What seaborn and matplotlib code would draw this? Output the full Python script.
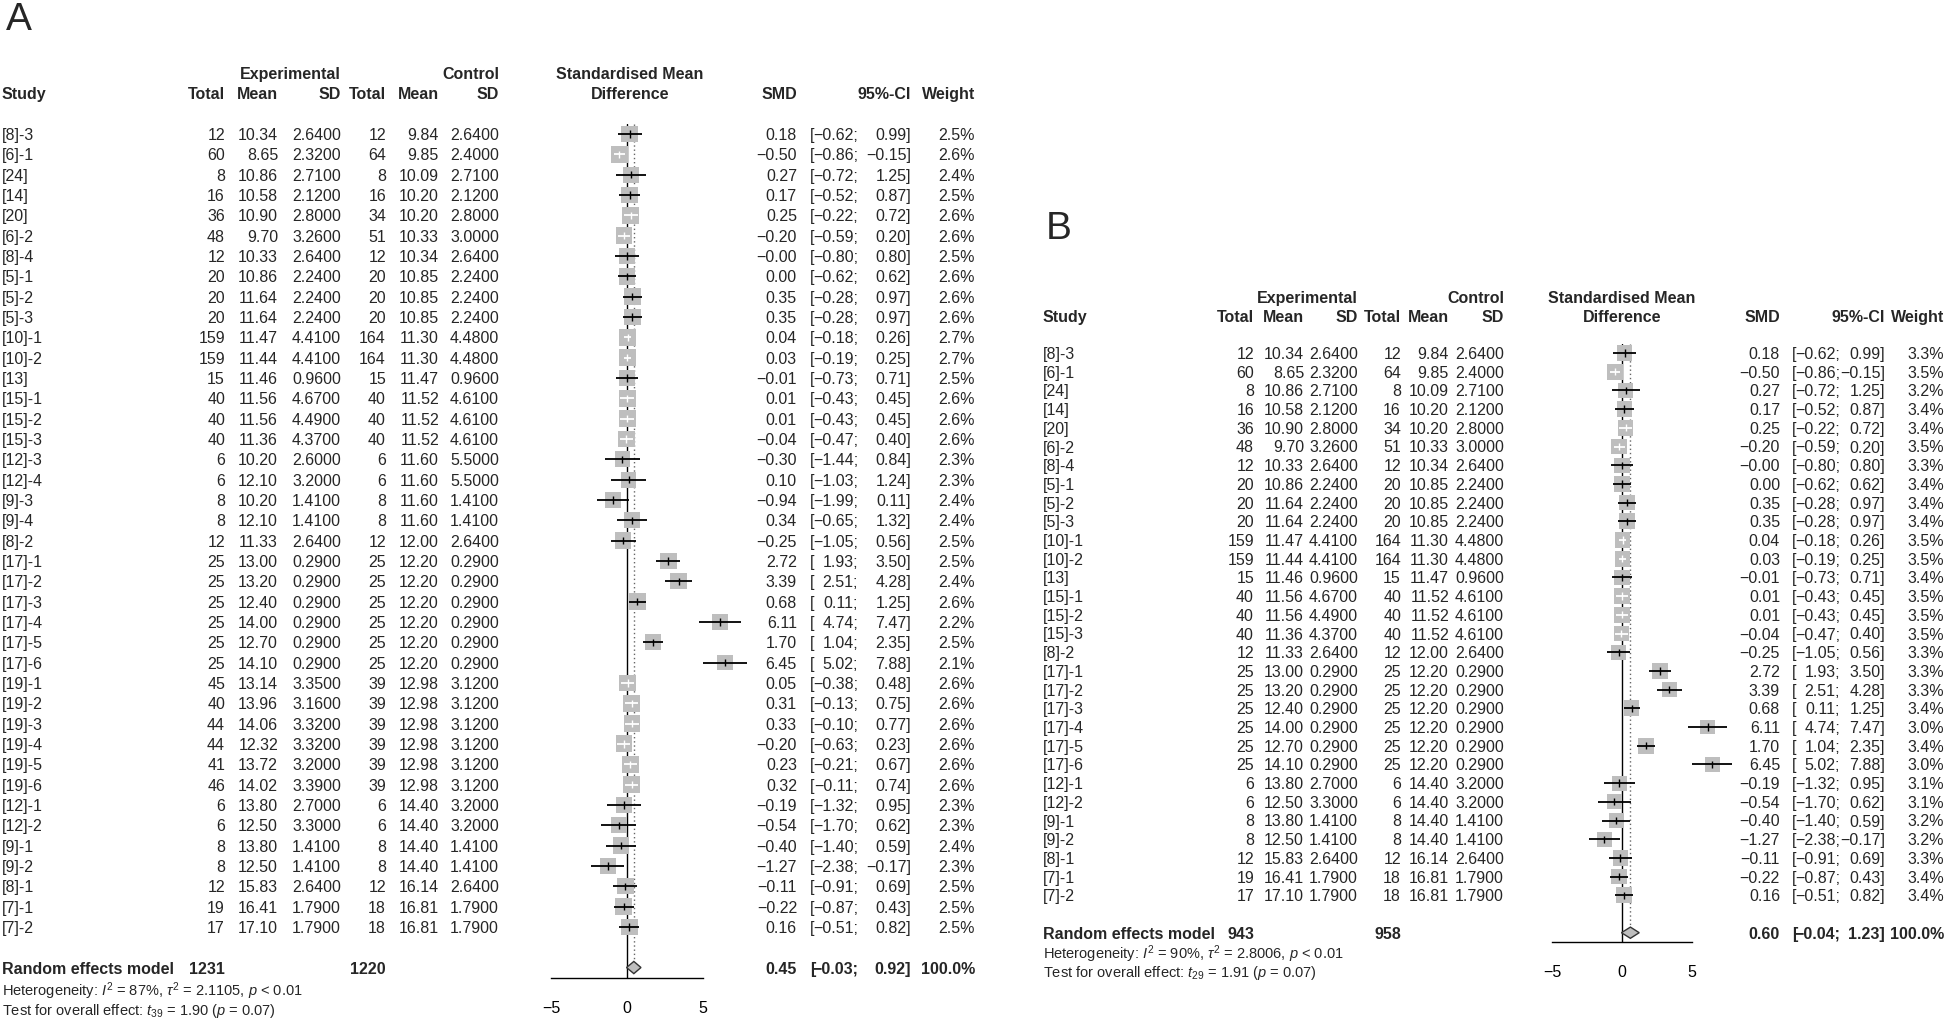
import matplotlib
matplotlib.use("Agg")
import matplotlib.pyplot as plt
import matplotlib.transforms as mtransforms
import numpy as np
import pandas as pd
import seaborn as sns

# panel A: all 40 comparisons
study_a = ["[8]-3", "[6]-1", "[24]", "[14]", "[20]", "[6]-2", "[8]-4", "[5]-1", "[5]-2", "[5]-3",
           "[10]-1", "[10]-2", "[13]", "[15]-1", "[15]-2", "[15]-3", "[12]-3", "[12]-4", "[9]-3", "[9]-4",
           "[8]-2", "[17]-1", "[17]-2", "[17]-3", "[17]-4", "[17]-5", "[17]-6", "[19]-1", "[19]-2", "[19]-3",
           "[19]-4", "[19]-5", "[19]-6", "[12]-1", "[12]-2", "[9]-1", "[9]-2", "[8]-1", "[7]-1", "[7]-2"]
n_exp_a = [12, 60, 8, 16, 36, 48, 12, 20, 20, 20, 159, 159, 15, 40, 40, 40, 6, 6, 8, 8,
           12, 25, 25, 25, 25, 25, 25, 45, 40, 44, 44, 41, 46, 6, 6, 8, 8, 12, 19, 17]
mean_exp_a = [10.34, 8.65, 10.86, 10.58, 10.90, 9.70, 10.33, 10.86, 11.64, 11.64,
              11.47, 11.44, 11.46, 11.56, 11.56, 11.36, 10.20, 12.10, 10.20, 12.10,
              11.33, 13.00, 13.20, 12.40, 14.00, 12.70, 14.10, 13.14, 13.96, 14.06,
              12.32, 13.72, 14.02, 13.80, 12.50, 13.80, 12.50, 15.83, 16.41, 17.10]
sd_exp_a = [2.64, 2.32, 2.71, 2.12, 2.80, 3.26, 2.64, 2.24, 2.24, 2.24,
            4.41, 4.41, 0.96, 4.67, 4.49, 4.37, 2.60, 3.20, 1.41, 1.41,
            2.64, 0.29, 0.29, 0.29, 0.29, 0.29, 0.29, 3.35, 3.16, 3.32,
            3.32, 3.20, 3.39, 2.70, 3.30, 1.41, 1.41, 2.64, 1.79, 1.79]
n_ctl_a = [12, 64, 8, 16, 34, 51, 12, 20, 20, 20, 164, 164, 15, 40, 40, 40, 6, 6, 8, 8,
           12, 25, 25, 25, 25, 25, 25, 39, 39, 39, 39, 39, 39, 6, 6, 8, 8, 12, 18, 18]
mean_ctl_a = [9.84, 9.85, 10.09, 10.20, 10.20, 10.33, 10.34, 10.85, 10.85, 10.85,
              11.30, 11.30, 11.47, 11.52, 11.52, 11.52, 11.60, 11.60, 11.60, 11.60,
              12.00, 12.20, 12.20, 12.20, 12.20, 12.20, 12.20, 12.98, 12.98, 12.98,
              12.98, 12.98, 12.98, 14.40, 14.40, 14.40, 14.40, 16.14, 16.81, 16.81]
sd_ctl_a = [2.64, 2.40, 2.71, 2.12, 2.80, 3.00, 2.64, 2.24, 2.24, 2.24,
            4.48, 4.48, 0.96, 4.61, 4.61, 4.61, 5.50, 5.50, 1.41, 1.41,
            2.64, 0.29, 0.29, 0.29, 0.29, 0.29, 0.29, 3.12, 3.12, 3.12,
            3.12, 3.12, 3.12, 3.20, 3.20, 1.41, 1.41, 2.64, 1.79, 1.79]
smd_a = [0.18, -0.50, 0.27, 0.17, 0.25, -0.20, -0.0, 0.00, 0.35, 0.35,
         0.04, 0.03, -0.01, 0.01, 0.01, -0.04, -0.30, 0.10, -0.94, 0.34,
         -0.25, 2.72, 3.39, 0.68, 6.11, 1.70, 6.45, 0.05, 0.31, 0.33,
         -0.20, 0.23, 0.32, -0.19, -0.54, -0.40, -1.27, -0.11, -0.22, 0.16]
lo_a = [-0.62, -0.86, -0.72, -0.52, -0.22, -0.59, -0.80, -0.62, -0.28, -0.28,
        -0.18, -0.19, -0.73, -0.43, -0.43, -0.47, -1.44, -1.03, -1.99, -0.65,
        -1.05, 1.93, 2.51, 0.11, 4.74, 1.04, 5.02, -0.38, -0.13, -0.10,
        -0.63, -0.21, -0.11, -1.32, -1.70, -1.40, -2.38, -0.91, -0.87, -0.51]
hi_a = [0.99, -0.15, 1.25, 0.87, 0.72, 0.20, 0.80, 0.62, 0.97, 0.97,
        0.26, 0.25, 0.71, 0.45, 0.45, 0.40, 0.84, 1.24, 0.11, 1.32,
        0.56, 3.50, 4.28, 1.25, 7.47, 2.35, 7.88, 0.48, 0.75, 0.77,
        0.23, 0.67, 0.74, 0.95, 0.62, 0.59, -0.17, 0.69, 0.43, 0.82]
weight_a = [2.5, 2.6, 2.4, 2.5, 2.6, 2.6, 2.5, 2.6, 2.6, 2.6,
            2.7, 2.7, 2.5, 2.6, 2.6, 2.6, 2.3, 2.3, 2.4, 2.4,
            2.5, 2.5, 2.4, 2.6, 2.2, 2.5, 2.1, 2.6, 2.6, 2.6,
            2.6, 2.6, 2.6, 2.3, 2.3, 2.4, 2.3, 2.5, 2.5, 2.5]

# panel B: 30 comparisons, same per-study values, new weights
study_b = ["[8]-3", "[6]-1", "[24]", "[14]", "[20]", "[6]-2", "[8]-4", "[5]-1", "[5]-2", "[5]-3",
           "[10]-1", "[10]-2", "[13]", "[15]-1", "[15]-2", "[15]-3", "[8]-2", "[17]-1", "[17]-2", "[17]-3",
           "[17]-4", "[17]-5", "[17]-6", "[12]-1", "[12]-2", "[9]-1", "[9]-2", "[8]-1", "[7]-1", "[7]-2"]
weight_b = [3.3, 3.5, 3.2, 3.4, 3.4, 3.5, 3.3, 3.4, 3.4, 3.4,
            3.5, 3.5, 3.4, 3.5, 3.5, 3.5, 3.3, 3.3, 3.3, 3.4,
            3.0, 3.4, 3.0, 3.1, 3.1, 3.2, 3.2, 3.3, 3.4, 3.4]

# random effects summaries: totals (exp, ctl), smd, lower, upper
totals_re_a = [1231, 1220]
smd_re_a = [0.45, -0.03, 0.92]
het_a = ["87%", "2.1105", "< 0.01"]
test_a = ["39", "1.90", "0.07"]
totals_re_b = [943, 958]
smd_re_b = [0.60, -0.04, 1.23]
het_b = ["90%", "2.8006", "< 0.01"]
test_b = ["29", "1.91", "0.07"]

W, H = 1946, 1019
FS = 11.5
GRAY = "#BEBEBE"

sns.set_style("white")
plt.rcParams["font.family"] = ["Liberation Sans", "DejaVu Sans"]
plt.rcParams["mathtext.fontset"] = "custom"
plt.rcParams["mathtext.rm"] = "Liberation Sans"
plt.rcParams["mathtext.it"] = "Liberation Sans:italic"
plt.rcParams["mathtext.bf"] = "Liberation Sans:bold"


def num(v, fmt="{:.2f}"):
    return fmt.format(v).replace("-", "\u2212")


def draw_panel(fig, df, summ, tot, het, test, lay):
    n = len(df)
    step = lay["step"]
    y_top = lay["row0"] - 0.5 * step
    y_bot = lay["row0"] + (n + 1.5) * step
    x0, x1 = lay["x0"], lay["x1"]
    ax = fig.add_axes([x0 / W, 1 - y_bot / H, (x1 - x0) / W, (y_bot - y_top) / H])
    ax.patch.set_alpha(0)

    df = df.copy()
    df["row"] = np.arange(n)
    wmax = df["weight"].max()
    smax = lay["smax"]
    sns.scatterplot(data=df, x="smd", y="row", size="weight", sizes=(0, smax), size_norm=(0, wmax),
                    marker="s", color=GRAY, edgecolor="none", linewidth=0, legend=False,
                    ax=ax, zorder=3, clip_on=False)

    # CI drawn white when it fits inside the square
    half = np.sqrt(smax * df["weight"] / wmax) / 0.72 / 2 / ((x1 - x0) / 10)
    inside = ((df["smd"] - df["lo"]) < half) & ((df["hi"] - df["smd"]) < half)
    cols = np.where(inside, "white", "black")
    ax.hlines(df["row"], df["lo"], df["hi"], colors=cols, lw=1.3, zorder=4, clip_on=False)
    ax.scatter(df["smd"], df["row"], marker="|", s=28, c=cols, linewidths=1.0, zorder=5, clip_on=False)

    ax.axvline(0, color="black", lw=1, zorder=1)
    est, lo, hi = summ
    ax.vlines(est, -0.5, n + 1 - 0.3, colors="#666666", linestyles=(0, (1, 2)), lw=1, zorder=1)
    ax.fill([lo, est, hi, est], [n + 1, n + 0.7, n + 1, n + 1.3], facecolor=GRAY,
            edgecolor="#333333", lw=1, zorder=4, clip_on=False)

    ax.set_xlim(-5, 5)
    ax.set_ylim(n + 1.5, -0.5)
    ax.set_xticks([-5, 0, 5])
    ax.set_yticks([])
    ax.set_xlabel("")
    ax.set_ylabel("")
    for s in ["left", "right", "top"]:
        ax.spines[s].set_visible(False)
    ax.spines["bottom"].set_color("black")
    ax.spines["bottom"].set_linewidth(1)
    ax.tick_params(axis="x", direction="out", length=7, width=1, pad=9.5, labelsize=FS, colors="black")

    tr = mtransforms.blended_transform_factory(fig.transFigure, ax.transData)
    c = lay["cols"]

    def put(xpx, row, s, ha="right", **kw):
        ax.text(xpx / W, row, s, ha=ha, va="center_baseline", transform=tr, fontsize=kw.pop("fs", FS), **kw)

    # headers
    put(c["se"], -3, "Experimental", weight="bold")
    put(c["sc"], -3, "Control", weight="bold")
    put(lay["mid"], -3, "Standardised Mean", ha="center", weight="bold")
    put(lay["mid"], -2, "Difference", ha="center", weight="bold")
    put(c["study"], -2, "Study", ha="left", weight="bold")
    for key, lab in [("ne", "Total"), ("me", "Mean"), ("se", "SD"), ("nc", "Total"), ("mc", "Mean"),
                     ("sc", "SD"), ("smd", "SMD"), ("hi", "95%-CI"), ("w", "Weight")]:
        put(c[key], -2, lab, weight="bold")

    for i, r in df.iterrows():
        put(c["study"], i, r["study"], ha="left")
        put(c["ne"], i, str(r["n_exp"]))
        put(c["me"], i, num(r["mean_exp"]))
        put(c["se"], i, num(r["sd_exp"], "{:.4f}"))
        put(c["nc"], i, str(r["n_ctl"]))
        put(c["mc"], i, num(r["mean_ctl"]))
        put(c["sc"], i, num(r["sd_ctl"], "{:.4f}"))
        put(c["smd"], i, num(r["smd"]))
        put(c["br"], i, "[", ha="left")
        put(c["lo"], i, num(r["lo"]) + ";")
        put(c["hi"], i, num(r["hi"]) + "]")
        put(c["w"], i, "{:.1f}%".format(r["weight"]))

    rr = n + 1
    put(c["study"], rr, "Random effects model", ha="left", weight="bold")
    put(c["ne"], rr, str(tot[0]), weight="bold")
    put(c["nc"], rr, str(tot[1]), weight="bold")
    put(c["smd"], rr, num(est), weight="bold")
    put(c["br"], rr, "[", ha="left", weight="bold")
    put(c["lo"], rr, num(lo) + ";", weight="bold")
    put(c["hi"], rr, num(hi) + "]", weight="bold")
    put(c["w"], rr, "100.0%", weight="bold")
    put(c["study"], n + 2, r"Heterogeneity: $\mathit{I}^2$ = %s, $\tau^2$ = %s, $\mathit{p}$ %s" % tuple(het),
        ha="left", fs=FS - 1)
    put(c["study"], n + 3, r"Test for overall effect: $\mathit{t}_{%s}$ = %s ($\mathit{p}$ = %s)" % tuple(test),
        ha="left", fs=FS - 1)
    return ax


df_a = pd.DataFrame({"study": study_a, "n_exp": n_exp_a, "mean_exp": mean_exp_a, "sd_exp": sd_exp_a,
                     "n_ctl": n_ctl_a, "mean_ctl": mean_ctl_a, "sd_ctl": sd_ctl_a,
                     "smd": smd_a, "lo": lo_a, "hi": hi_a, "weight": weight_a})
df_b = pd.DataFrame({"study": study_b, "weight": weight_b}).merge(
    df_a.drop(columns="weight"), on="study", how="left")

lay_a = dict(x0=551, x1=703, row0=134, step=20.33, smax=152, mid=630,
             cols=dict(study=2, ne=225, me=278, se=341, nc=386, mc=439, sc=499,
                       smd=797, br=810, lo=858, hi=911, w=975))
lay_b = dict(x0=1552, x1=1692, row0=353, step=18.7, smax=130, mid=1622,
             cols=dict(study=1043, ne=1254, me=1304, se=1358, nc=1401, mc=1449, sc=1504,
                       smd=1780, br=1792, lo=1840, hi=1885, w=1944))

fig = plt.figure(figsize=(W / 100, H / 100), dpi=100)
draw_panel(fig, df_a, smd_re_a, totals_re_a, het_a, test_a, lay_a)
draw_panel(fig, df_b, smd_re_b, totals_re_b, het_b, test_b, lay_b)
fig.text(6 / W, 1 - 20 / H, "A", fontsize=28, ha="left", va="center")
fig.text(1046 / W, 1 - 229 / H, "B", fontsize=28, ha="left", va="center")

fig.savefig("out.png", dpi=100)
